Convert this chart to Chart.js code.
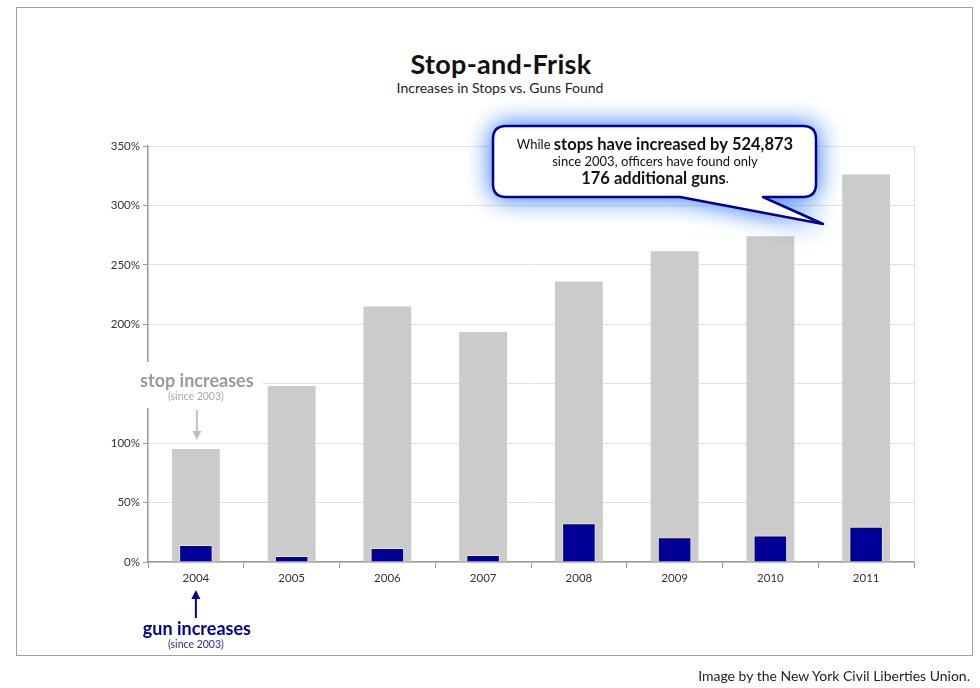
<!DOCTYPE html>
<html>
<head>
<meta charset="utf-8">
<script src="https://cdn.jsdelivr.net/npm/chart.js@4"></script>
<style>
  html, body { margin: 0; padding: 0; background: #fff; }
  body { width: 980px; height: 688px; position: relative; overflow: hidden; font-family: Lato, "Open Sans", sans-serif; }
  #frame { position: absolute; left: 16px; top: 7px; width: 955px; height: 647px; border: 1.5px solid #a0a0a0; }
  #title { position: absolute; left: 0; width: 1002px; top: 47px; text-align: center; font-weight: bold; font-size: 27px; color: #111; letter-spacing: 0.3px; }
  #subtitle { position: absolute; left: 0; width: 1000px; top: 79px; text-align: center; font-size: 14px; color: #222; }
  #footer { position: absolute; right: 10px; top: 667px; font-size: 14px; color: #222; }
  #chart { position: absolute; left: 0; top: 0; }
</style>
</head>
<body>
<div id="frame"></div>
<div id="title">Stop-and-Frisk</div>
<div id="subtitle">Increases in Stops vs. Guns Found</div>
<canvas id="chart" width="980" height="688"></canvas>
<div id="footer">Image by the New York Civil Liberties Union.</div>
<script>
// percent increase since 2003
const years = ["2004", "2005", "2006", "2007", "2008", "2009", "2010", "2011"];
const stopIncrease = [95, 148, 215, 193.5, 236, 261.5, 274, 326];
const gunIncrease = [14.3, 5, 11.8, 5.9, 32.5, 20.8, 22.4, 29.7];
const yTicks = [0, 50, 100, 150, 200, 250, 300, 350];

const NAVY = "#000099";

function roundRect(ctx, x, y, w, h, r) {
    ctx.beginPath();
    ctx.moveTo(x + r, y);
    ctx.lineTo(x + w - r, y);
    ctx.quadraticCurveTo(x + w, y, x + w, y + r);
    ctx.lineTo(x + w, y + h - r);
    ctx.quadraticCurveTo(x + w, y + h, x + w - r, y + h);
    ctx.lineTo(x + r, y + h);
    ctx.quadraticCurveTo(x, y + h, x, y + h - r);
    ctx.lineTo(x, y + r);
    ctx.quadraticCurveTo(x, y, x + r, y);
    ctx.closePath();
}

function arrow(ctx, x, y1, y2, color) {
    // shaft from y1 to y2, head at y2
    const dir = y2 > y1 ? 1 : -1;
    ctx.strokeStyle = color;
    ctx.fillStyle = color;
    ctx.lineWidth = 2;
    ctx.beginPath();
    ctx.moveTo(x, y1);
    ctx.lineTo(x, y2 - dir * 8);
    ctx.stroke();
    ctx.beginPath();
    ctx.moveTo(x - 4.5, y2 - dir * 9);
    ctx.lineTo(x + 4.5, y2 - dir * 9);
    ctx.lineTo(x, y2);
    ctx.closePath();
    ctx.fill();
}

const notes = {
    id: "notes",
    afterDraw(chart) {
        const ctx = chart.ctx;
        const area = chart.chartArea;
        const xs = chart.scales.x;
        const cx = xs.getPixelForValue(0);

        ctx.save();

        // right edge of plot
        ctx.strokeStyle = "#dcdcdc";
        ctx.lineWidth = 1;
        ctx.beginPath();
        ctx.moveTo(area.right + 0.5, area.top);
        ctx.lineTo(area.right + 0.5, area.bottom);
        ctx.stroke();

        // stop increases label sits over the axis
        ctx.fillStyle = "#fff";
        ctx.fillRect(100, 362, 163, 46);
        ctx.textAlign = "center";
        ctx.textBaseline = "middle";
        ctx.fillStyle = "#9a9a9a";
        ctx.font = "bold 18px Lato";
        ctx.fillText("stop increases", cx + 1, 381);
        ctx.fillStyle = "#aaaaaa";
        ctx.font = "10.5px Lato";
        ctx.fillText("(since 2003)", cx, 397);
        arrow(ctx, cx + 1, 410, 440, "#c0c0c0");

        // gun increases label under the axis
        arrow(ctx, cx, 618, 590, NAVY);
        ctx.fillStyle = NAVY;
        ctx.font = "bold 18px Lato";
        ctx.fillText("gun increases", cx + 1, 629);
        ctx.fillStyle = "#2a2aa8";
        ctx.font = "10.5px Lato";
        ctx.fillText("(since 2003)", cx, 645);

        // callout
        const bx = 493, by = 126, bw = 323, bh = 71;
        ctx.save();
        ctx.shadowColor = "rgba(90,150,245,0.9)";
        ctx.shadowBlur = 24;
        ctx.fillStyle = "#fff";
        for (let i = 0; i < 2; i++) {
            roundRect(ctx, bx, by, bw, bh, 13);
            ctx.fill();
            ctx.beginPath();
            ctx.moveTo(680, by + bh - 2);
            ctx.lineTo(823, 224);
            ctx.lineTo(763, by + bh - 2);
            ctx.closePath();
            ctx.fill();
        }
        ctx.restore();

        ctx.strokeStyle = NAVY;
        ctx.lineWidth = 2.5;
        ctx.lineJoin = "round";
        ctx.beginPath();
        ctx.moveTo(bx + 13, by);
        ctx.lineTo(bx + bw - 13, by);
        ctx.quadraticCurveTo(bx + bw, by, bx + bw, by + 13);
        ctx.lineTo(bx + bw, by + bh - 13);
        ctx.quadraticCurveTo(bx + bw, by + bh, bx + bw - 13, by + bh);
        ctx.lineTo(763, by + bh);
        ctx.lineTo(823, 224);
        ctx.lineTo(680, by + bh);
        ctx.lineTo(bx + 13, by + bh);
        ctx.quadraticCurveTo(bx, by + bh, bx, by + bh - 13);
        ctx.lineTo(bx, by + 13);
        ctx.quadraticCurveTo(bx, by, bx + 13, by);
        ctx.closePath();
        ctx.fillStyle = "#fff";
        ctx.fill();
        ctx.stroke();

        ctx.fillStyle = "#111";
        const mid = 655;
        // line 1: mixed weights
        const a = "While ", b = "stops have increased by 524,873";
        ctx.font = "13px Lato";
        const wa = ctx.measureText(a).width;
        ctx.font = "bold 16.5px Lato";
        const wb = ctx.measureText(b).width;
        let x0 = mid - (wa + wb) / 2;
        ctx.textAlign = "left";
        ctx.font = "13px Lato";
        ctx.fillText(a, x0, 145);
        ctx.font = "bold 16.5px Lato";
        ctx.fillText(b, x0 + wa, 145);

        ctx.textAlign = "center";
        ctx.font = "13px Lato";
        ctx.fillText("since 2003, officers have found only", mid, 162);

        const c = "176 additional guns", d = ".";
        ctx.font = "bold 16.5px Lato";
        const wc = ctx.measureText(c).width;
        ctx.font = "13px Lato";
        const wd = ctx.measureText(d).width;
        x0 = mid - (wc + wd) / 2;
        ctx.textAlign = "left";
        ctx.font = "bold 16.5px Lato";
        ctx.fillText(c, x0, 179);
        ctx.font = "13px Lato";
        ctx.fillText(d, x0 + wc, 179);

        ctx.restore();
    }
};

const tickFont = { family: "Lato", size: 11.5 };

new Chart(document.getElementById("chart"), {
    type: "bar",
    data: {
        labels: years,
        datasets: [
            {
                label: "gun increases",
                data: gunIncrease,
                backgroundColor: NAVY,
                borderColor: "#ece8c0",
                borderWidth: 1,
                borderSkipped: "bottom",
                grouped: false,
                categoryPercentage: 1,
                barPercentage: 0.35,
                order: 1
            },
            {
                label: "stop increases",
                data: stopIncrease,
                backgroundColor: "#cbcbcb",
                grouped: false,
                categoryPercentage: 1,
                barPercentage: 0.5,
                order: 2
            }
        ]
    },
    options: {
        responsive: false,
        animation: false,
        layout: { padding: { left: 108, top: 146, right: 66, bottom: 96 } },
        plugins: {
            legend: { display: false },
            tooltip: { enabled: false }
        },
        scales: {
            x: {
                afterFit: (s) => { s.height = 30; },
                grid: {
                    display: true,
                    drawOnChartArea: false,
                    tickColor: "#999",
                    tickLength: 6
                },
                border: { color: "#999", width: 1.5 },
                ticks: { color: "#333", font: tickFont, padding: 3 }
            },
            y: {
                min: 0,
                max: 350,
                afterFit: (s) => { s.width = 40; },
                afterBuildTicks: (s) => { s.ticks = yTicks.map(v => ({ value: v })); },
                grid: {
                    color: "#e2e2e2",
                    tickColor: "#999",
                    tickLength: 5
                },
                border: { color: "#999", width: 1.5 },
                ticks: {
                    color: "#333",
                    font: tickFont,
                    padding: 3,
                    callback: (v) => v + "%"
                }
            }
        }
    },
    plugins: [notes]
});
</script>
</body>
</html>
